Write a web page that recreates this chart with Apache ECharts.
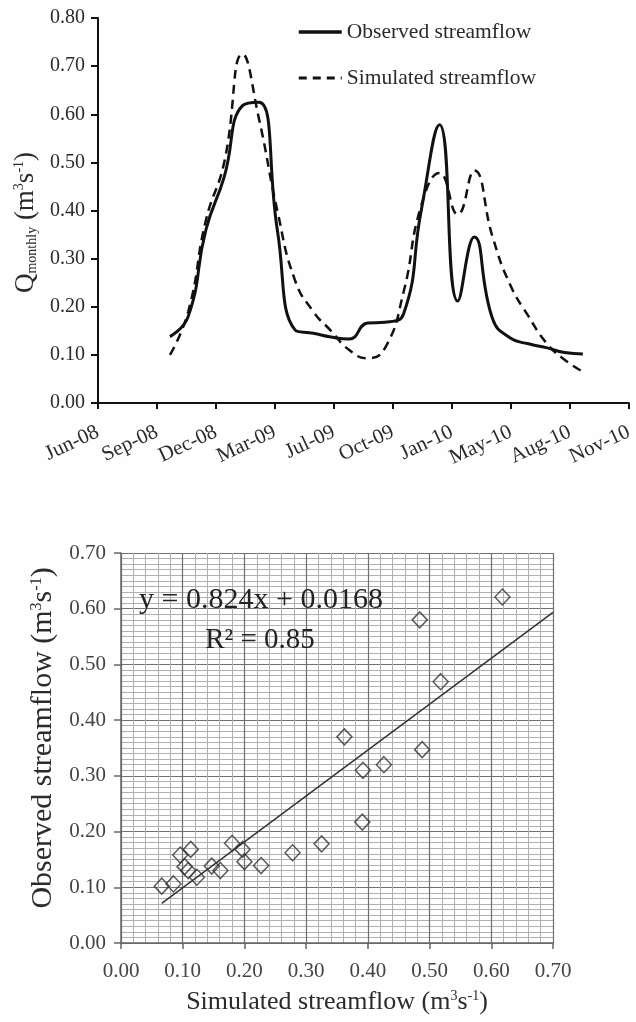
<!DOCTYPE html>
<html>
<head>
<meta charset="utf-8">
<script src="https://cdn.jsdelivr.net/npm/echarts@6/dist/echarts.min.js"></script>
<style>
  html, body { margin: 0; padding: 0; background: #fefefe; }
  #main { width: 636px; height: 1022px; }
</style>
</head>
<body>
<div id="main"></div>
<script>
// Monthly streamflow, Oct 2008 – Sep 2010 (m3/s)
const months = ['2008-10','2008-11','2008-12','2009-01','2009-02','2009-03','2009-04','2009-05',
                '2009-06','2009-07','2009-08','2009-09','2009-10','2009-11','2009-12','2010-01',
                '2010-02','2010-03','2010-04','2010-05','2010-06','2010-07','2010-08','2010-09'];
const observed  = [0.138, 0.180, 0.360, 0.470, 0.618, 0.625, 0.360, 0.152,
                   0.145, 0.137, 0.133, 0.166, 0.168, 0.185, 0.400, 0.578,
                   0.212, 0.345, 0.175, 0.135, 0.123, 0.115, 0.105, 0.102];
const simulated = [0.100, 0.190, 0.380, 0.500, 0.725, 0.590, 0.400, 0.255,
                   0.190, 0.150, 0.110, 0.093, 0.115, 0.230, 0.410, 0.478,
                   0.392, 0.483, 0.345, 0.245, 0.180, 0.125, 0.090, 0.065];

// Date axis: ticks every 100 days from 1 Jun 2008
const axisStart = Date.UTC(2008, 5, 1);
const tickStepDays = 100;
const dateTickLabels = ['Jun-08','Sep-08','Dec-08','Mar-09','Jul-09','Oct-09','Jan-10','May-10','Aug-10','Nov-10'];

// Simulated vs observed pairs for the scatter panel
const simScatter = [0.066, 0.085, 0.096, 0.113, 0.103, 0.109, 0.123, 0.147, 0.161, 0.180, 0.197, 0.200,
                    0.227, 0.278, 0.325, 0.391, 0.618, 0.484, 0.518, 0.362, 0.392, 0.426, 0.488];
const obsScatter = [0.102, 0.106, 0.158, 0.168, 0.137, 0.130, 0.118, 0.138, 0.130, 0.179, 0.168, 0.146,
                    0.139, 0.162, 0.178, 0.217, 0.621, 0.580, 0.469, 0.370, 0.310, 0.320, 0.347];

// Linear fit
const fitSlope = 0.824;
const fitIntercept = 0.0168;
const fitR2 = 0.85;

const FONT = 'Liberation Serif';
const INK = '#2b2b2b';

function dayOffset(ym) {
  const [y, m] = ym.split('-').map(Number);
  return (Date.UTC(y, m - 1, 1) - axisStart) / 86400000;
}

const obsSeries = months.map((m, i) => [dayOffset(m), observed[i]]);
const simSeries = months.map((m, i) => [dayOffset(m), simulated[i]]);
const scatterData = simScatter.map((s, i) => [s, obsScatter[i]]);
const fitX0 = Math.min(...simScatter);
const fitX1 = 0.7;
const fitLine = [[fitX0, fitSlope * fitX0 + fitIntercept], [fitX1, fitSlope * fitX1 + fitIntercept]];

const unitRichTop = {
  t:   { fontFamily: FONT, fontSize: 27, color: INK },
  q:   { fontFamily: FONT, fontSize: 27, color: INK },
  sub: { fontFamily: FONT, fontSize: 14, color: INK, verticalAlign: 'bottom' },
  sup: { fontFamily: FONT, fontSize: 14, color: INK, verticalAlign: 'top' }
};
const unitRichX = {
  t:   { fontFamily: FONT, fontSize: 26, color: INK },
  sup: { fontFamily: FONT, fontSize: 14, color: INK, verticalAlign: 'top' }
};
const unitRichY = {
  t:   { fontFamily: FONT, fontSize: 30, color: INK },
  sup: { fontFamily: FONT, fontSize: 16, color: INK, verticalAlign: 'top' }
};

const chart = echarts.init(document.getElementById('main'), null, { renderer: 'canvas' });

chart.setOption({
  backgroundColor: '#fefefe',
  animation: false,
  legend: {
    data: [
      { name: 'Observed streamflow', lineStyle: { width: 3.5, type: 'solid' } },
      { name: 'Simulated streamflow', lineStyle: { width: 3, type: [8, 6] } }
    ],
    orient: 'vertical',
    left: 297,
    top: 21,
    padding: 0,
    itemWidth: 43,
    itemHeight: 14,
    itemGap: 24,
    itemStyle: { opacity: 0 },
    textStyle: { fontFamily: FONT, fontSize: 21.5, color: INK }
  },
  grid: [
    { left: 98, top: 18, width: 533, height: 385 },
    { left: 121, top: 553, width: 432, height: 390 }
  ],
  xAxis: [
    {
      gridIndex: 0,
      type: 'value',
      min: 0,
      max: tickStepDays * (dateTickLabels.length - 1),
      interval: tickStepDays,
      axisLine: { lineStyle: { color: '#111', width: 2 } },
      axisTick: { show: true, inside: false, length: 6, lineStyle: { color: '#111', width: 2 } },
      splitLine: { show: false },
      axisLabel: {
        rotate: 25,
        margin: 28,
        fontFamily: FONT,
        fontSize: 21,
        color: INK,
        formatter: v => dateTickLabels[Math.round(v / tickStepDays)]
      }
    },
    {
      gridIndex: 1,
      type: 'value',
      min: 0,
      max: 0.7,
      interval: 0.1,
      name: '{t|Simulated streamflow (m}{sup|3}{t|s}{sup|-1}{t|)}',
      nameLocation: 'middle',
      nameGap: 46,
      nameTextStyle: { rich: unitRichX },
      axisLine: { lineStyle: { color: '#666', width: 1.5 } },
      axisTick: { show: true, length: 6, lineStyle: { color: '#666', width: 1.5 } },
      minorTick: { show: false, splitNumber: 5 },
      splitLine: { show: true, lineStyle: { color: '#707070', width: 1.2 } },
      minorSplitLine: { show: true, lineStyle: { color: '#b0b0b0', width: 1 } },
      axisLabel: {
        margin: 18,
        fontFamily: FONT,
        fontSize: 21,
        color: '#444',
        formatter: v => v.toFixed(2)
      }
    }
  ],
  yAxis: [
    {
      gridIndex: 0,
      type: 'value',
      min: 0,
      max: 0.8,
      interval: 0.1,
      name: '{q|Q}{sub|monthly}{t| (m}{sup|3}{t|s}{sup|-1}{t|)}',
      nameLocation: 'middle',
      nameRotate: 90,
      nameGap: 52,
      nameTextStyle: { rich: unitRichTop, padding: [0, 24, 0, 0] },
      axisLine: { show: true, lineStyle: { color: '#111', width: 2 } },
      axisTick: { show: true, length: 7, lineStyle: { color: '#111', width: 2 } },
      splitLine: { show: false },
      axisLabel: {
        margin: 13,
        fontFamily: FONT,
        fontSize: 20,
        color: INK,
        formatter: v => v.toFixed(2)
      }
    },
    {
      gridIndex: 1,
      type: 'value',
      min: 0,
      max: 0.7,
      interval: 0.1,
      name: '{t|Observed streamflow (m}{sup|3}{t|s}{sup|-1}{t|)}',
      nameLocation: 'middle',
      nameRotate: 90,
      nameGap: 57,
      nameTextStyle: { rich: unitRichY, padding: [0, 0, 0, 20] },
      axisLine: { show: true, lineStyle: { color: '#666', width: 1.5 } },
      axisTick: { show: true, length: 7, lineStyle: { color: '#666', width: 1.5 } },
      minorTick: { show: false, splitNumber: 10 },
      splitLine: { show: true, lineStyle: { color: '#707070', width: 1.2 } },
      minorSplitLine: { show: true, lineStyle: { color: '#b0b0b0', width: 1 } },
      axisLabel: {
        margin: 15,
        fontFamily: FONT,
        fontSize: 21,
        color: '#444',
        formatter: v => v.toFixed(2)
      }
    }
  ],
  graphic: [
    {
      type: 'text',
      x: 261, y: 600,
      style: {
        text: 'y = ' + fitSlope.toFixed(3) + 'x + ' + fitIntercept.toFixed(4),
        fontFamily: FONT, fontSize: 30, fill: '#222',
        align: 'center', verticalAlign: 'middle'
      },
      z: 100
    },
    {
      type: 'text',
      x: 260, y: 640,
      style: {
        text: 'R\u00B2 = ' + fitR2.toFixed(2),
        fontFamily: FONT, fontSize: 29, fill: '#222',
        align: 'center', verticalAlign: 'middle'
      },
      z: 100
    }
  ],
  series: [
    {
      name: 'Observed streamflow',
      type: 'line',
      xAxisIndex: 0, yAxisIndex: 0,
      data: obsSeries,
      smooth: 0.5,
      symbol: 'none',
      lineStyle: { color: '#111', width: 3 },
      itemStyle: { color: '#111' }
    },
    {
      name: 'Simulated streamflow',
      type: 'line',
      xAxisIndex: 0, yAxisIndex: 0,
      data: simSeries,
      smooth: 0.5,
      symbol: 'none',
      lineStyle: { color: '#111', width: 2.5, type: [9, 6] },
      itemStyle: { color: '#111' }
    },
    {
      name: 'Linear fit',
      type: 'line',
      xAxisIndex: 1, yAxisIndex: 1,
      data: fitLine,
      symbol: 'none',
      lineStyle: { color: '#333', width: 1.5 },
      z: 3
    },
    {
      name: 'Simulated vs observed',
      type: 'scatter',
      xAxisIndex: 1, yAxisIndex: 1,
      data: scatterData,
      symbol: 'diamond',
      symbolSize: [15, 16],
      itemStyle: { color: 'rgba(255,255,255,0)', borderColor: '#333', borderWidth: 1.5 },
      z: 4
    }
  ]
});
</script>
</body>
</html>
